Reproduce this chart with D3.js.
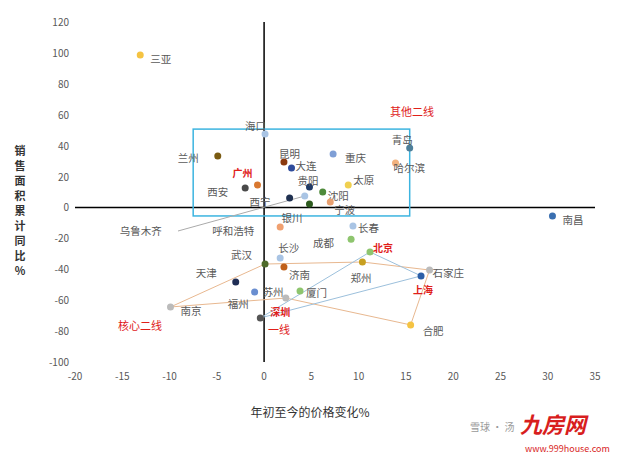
<!DOCTYPE html>
<html><head><meta charset="utf-8">
<script src="https://cdn.jsdelivr.net/npm/d3@7"></script>
<style>body{margin:0;background:#fff;font-family:"Noto Sans CJK SC","Noto Sans",sans-serif}</style>
</head><body><svg id="c" width="625" height="455"></svg>
<script>
const cities = ["三亚","海口","兰州","昆明","大连","重庆","青岛","哈尔滨","广州","西安","贵阳","太原","沈阳","西宁","乌鲁木齐","银川","宁波","南昌","呼和浩特","长春","成都","北京","长沙","武汉","济南","郑州","石家庄","上海","天津","苏州","厦门","福州","南京","深圳","合肥"];
const priceChg = [-13.1,0.1,-4.9,2.1,2.9,7.3,15.4,13.9,-0.7,-2.0,4.8,8.9,6.2,2.7,4.3,4.8,7.0,30.5,1.7,9.4,9.2,11.2,1.7,0.1,2.1,10.4,17.5,16.6,-3.0,-1.0,3.8,2.3,-9.9,-0.4,15.5];
const salesChg = [98.7,47.6,33.3,29.4,25.6,34.6,38.5,28.8,14.6,12.6,13.3,14.6,10,6.1,7.4,2.3,3.6,-5.5,-12.6,-12,-20.5,-28.8,-32.7,-36.6,-38.5,-35.3,-40.5,-44.3,-48.2,-54.7,-54.0,-58.6,-64.4,-71.5,-76.0];
const colors = ["#f5c342","#a9c4e4","#7a5b12","#8b3a0f","#2f4c9c","#7f9fd6","#4d7f9a","#f2b27e","#d9782f","#4a4a4a","#1f3a66","#f0d050","#4e8a3a","#1f3050","#a9c4e4","#2d5a1e","#e8a070","#3a6fb0","#f0a070","#a9c4e4","#8ec56e","#8ec56e","#a9c4e4","#4e6a2a","#c0601a","#c8a020","#bbbbbb","#2b5fa8","#1f2d55","#6a8ed0","#8ec56e","#bbbbbb","#bbbbbb","#555555","#f5c342"];
const labelOff = {"三亚":[10,4],"海口":[-20,-8],"兰州":[-40,2],"昆明":[-5,-8],"大连":[4,-2],"重庆":[12,4],"青岛":[-18,-8],"哈尔滨":[-2,5],"广州":[-25,-12],"西安":[-38,4],"贵阳":[-12,-6],"太原":[5,-5],"沈阳":[5,4],"西宁":[-40,4],"乌鲁木齐":[-185,35],"银川":[-28,14],"宁波":[4,8],"南昌":[10,4],"呼和浩特":[-68,4],"长春":[5,2],"成都":[-38,4],"北京":[3,-4],"长沙":[-2,-10],"武汉":[-34,-9],"济南":[5,8],"郑州":[-12,16],"石家庄":[3,3],"上海":[-8,14],"天津":[-40,-9],"苏州":[8,0],"厦门":[6,2],"福州":[-58,6],"南京":[10,4],"深圳":[10,-6],"合肥":[12,6]};
const redLabels = ["广州","北京","上海","深圳"];
const tier1 = ["北京","上海","深圳","北京"];
const core2 = ["南京","武汉","郑州","石家庄","合肥","福州","南京"];
const xTicks = d3.range(-20,36,5), yTicks = d3.range(-100,121,20);

const svg = d3.select("#c");
const x = d3.scaleLinear().domain([-20,35]).range([75,595]);
const y = d3.scaleLinear().domain([-100,120]).range([362,22]);
const idx = n => cities.indexOf(n);
const pt = n => [x(priceChg[idx(n)]), y(salesChg[idx(n)])];

// axes through zero
svg.append("line").attr("x1",x(-20)).attr("x2",x(35)).attr("y1",y(0)).attr("y2",y(0)).attr("stroke","#000").attr("stroke-width",1.5);
svg.append("line").attr("x1",x(0)).attr("x2",x(0)).attr("y1",y(-100)).attr("y2",y(120)).attr("stroke","#000").attr("stroke-width",1.5);
xTicks.forEach(t=>svg.append("text").attr("x",x(t)).attr("y",380).attr("text-anchor","middle").attr("font-size",10).attr("fill","#595959").text(t));
yTicks.forEach(t=>svg.append("text").attr("x",69).attr("y",y(t)+4).attr("text-anchor","end").attr("font-size",10).attr("fill","#595959").text(t));

// groupings
svg.append("rect").attr("x",x(-7.5)).attr("y",y(50.7)).attr("width",x(15.4)-x(-7.5)).attr("height",y(-5.5)-y(50.7))
  .attr("fill","none").attr("stroke","#3cb4e0").attr("stroke-width",1.5);
const line = d3.line();
svg.append("path").attr("d",line(core2.map(pt))).attr("fill","none").attr("stroke","#e8b890").attr("stroke-width",1);
svg.append("path").attr("d",line(tier1.map(pt))).attr("fill","none").attr("stroke","#9cc0dc").attr("stroke-width",1);
svg.append("line").attr("x1",178).attr("y1",231).attr("x2",pt("乌鲁木齐")[0]).attr("y2",pt("乌鲁木齐")[1]).attr("stroke","#aaa");

cities.forEach((c,i)=>{
  const [px,py]=[x(priceChg[i]),y(salesChg[i])];
  svg.append("circle").attr("cx",px).attr("cy",py).attr("r",3.5).attr("fill",colors[i]);
  const o=labelOff[c], red=redLabels.includes(c);
  svg.append("text").attr("x",px+o[0]).attr("y",py+o[1]+4).attr("font-size",red?10:10.5)
    .attr("font-weight",red?"bold":"normal").attr("fill",red?"#e0201a":"#595959").text(c);
});
[["其他二线",390,116],["核心二线",118,330],["一线",268,334]].forEach(d=>
  svg.append("text").attr("x",d[1]).attr("y",d[2]).attr("font-size",11).attr("fill","#e0201a").text(d[0]));

svg.append("text").attr("x",310).attr("y",417).attr("text-anchor","middle").attr("font-size",12).attr("fill","#333").text("年初至今的价格变化%");
const yl=svg.append("text").attr("font-size",11).attr("fill","#333").attr("font-weight","bold");
"销售面积累计同比%".split("").forEach((ch,i)=>yl.append("tspan").attr("x",20).attr("y",155+i*15).attr("text-anchor","middle").text(ch));

svg.append("text").attr("x",520).attr("y",433).attr("font-size",22).attr("font-weight","bold").attr("fill","#d81e1e").attr("font-style","italic").text("九房网");
svg.append("text").attr("x",525).attr("y",452).attr("font-size",9).attr("fill","#d81e1e").text("www.999house.com");
svg.append("text").attr("x",470).attr("y",431).attr("font-size",10).attr("fill","#999").text("雪球 · 汤");
</script></body></html>
